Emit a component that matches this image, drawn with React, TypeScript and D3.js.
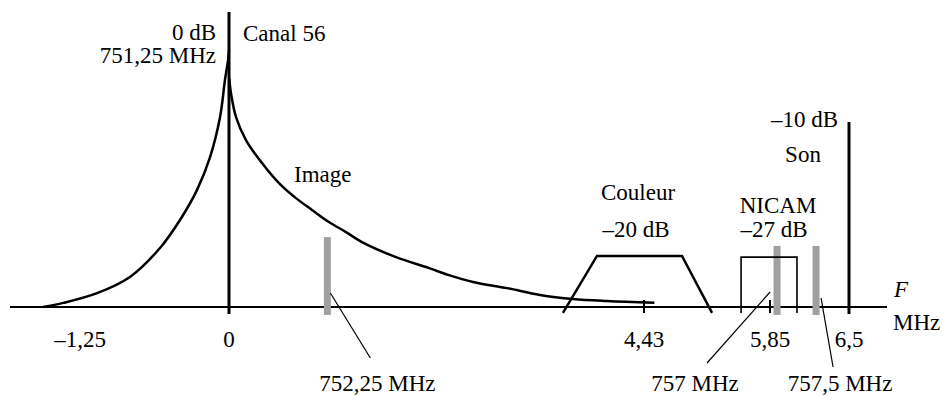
import React, { useRef, useEffect } from 'react';
import * as d3 from 'd3';

const W = 943;
const H = 396;

// schematic frequency axis (MHz from the picture carrier), not to scale
const tickValues = [-1.25, 0, 4.43, 5.85, 6.5];
const tickLabels = ['–1,25', '0', '4,43', '5,85', '6,5'];
const tickMarks = [4.43, 5.85];

// vision spectrum, relative amplitude
const imageLeft = [
  [-1.56, 0], [-1.39, 0.014], [-1.107, 0.047], [-0.831, 0.102], [-0.579, 0.2],
  [-0.411, 0.295], [-0.268, 0.397], [-0.159, 0.508], [-0.075, 0.644],
  [-0.034, 0.769], [-0.008, 0.837], [0, 0.87],
];
const imageRight = [
  [0.003, 0.775], [0.021, 0.725], [0.075, 0.644], [0.181, 0.566], [0.352, 0.488],
  [0.534, 0.42], [0.715, 0.369], [0.886, 0.329], [1.067, 0.288], [1.249, 0.254],
  [1.42, 0.22], [1.783, 0.169], [2.135, 0.132], [2.348, 0.108], [2.605, 0.085],
  [2.968, 0.064], [3.32, 0.041], [3.672, 0.027], [4.035, 0.02], [4.547, 0.014],
];

// colour sub-carrier band and NICAM band
const couleur = [[3.565, -0.02], [3.928, 0.173], [4.858, 0.173], [5.197, -0.02]];
const nicam = [[5.524, -0.02], [5.524, 0.169], [6.072, 0.169], [6.072, -0.02]];

// carriers: vision (0 dB) and sound (-10 dB)
const carriers = [
  { f: 0, a: 1 },
  { f: 6.5, a: 0.627 },
];

// grey markers with their callouts
const markers = [
  { f: 1.05, a: 0.237, label: '752,25 MHz', from: [3, 293], to: [43, 358], lx: 50 },
  { f: 5.908, a: 0.207, label: '757 MHz', from: [-7, 292], to: [-70, 363], lx: -82 },
  { f: 6.229, a: 0.207, label: '757,5 MHz', from: [5, 298], to: [17, 367], lx: 24 },
];

const FONT = "'Liberation Serif'";

const Spectrum = () => {
  const ref = useRef<SVGSVGElement>(null);

  useEffect(() => {
    const svg = d3.select(ref.current);
    svg.selectAll('*').remove();

    const x = d3.scaleLinear()
      .domain(tickValues)
      .range([80, 229, 644, 770, 849]);
    const y = d3.scaleLinear().domain([0, 1]).range([307, 12]);

    const g = svg.append('g');

    const label = (sel: any) => sel
      .style('font-family', FONT)
      .style('font-size', '23px')
      .attr('fill', '#000');

    // axis line
    g.append('line')
      .attr('x1', 10).attr('x2', 887)
      .attr('y1', y(0)).attr('y2', y(0))
      .attr('stroke', '#000').attr('stroke-width', 2);

    // tick marks
    g.selectAll('.tick')
      .data(tickMarks)
      .enter()
      .append('line')
      .attr('x1', d => x(d)).attr('x2', d => x(d))
      .attr('y1', y(0) - 7).attr('y2', y(0) + 6)
      .attr('stroke', '#000').attr('stroke-width', 2);

    // tick labels
    g.selectAll('.tlabel')
      .data(tickValues)
      .enter()
      .append('text')
      .call(label)
      .attr('x', d => x(d))
      .attr('y', 347)
      .attr('text-anchor', 'middle')
      .text((d, i) => tickLabels[i]);

    // grey markers
    g.selectAll('.marker')
      .data(markers)
      .enter()
      .append('rect')
      .attr('x', d => x(d.f) - 3.5)
      .attr('width', 7)
      .attr('y', d => y(d.a))
      .attr('height', d => y(-0.027) - y(d.a))
      .attr('fill', '#a0a0a0');

    // callouts
    markers.forEach(m => {
      g.append('line')
        .attr('x1', x(m.f) + m.from[0]).attr('y1', m.from[1])
        .attr('x2', x(m.f) + m.to[0]).attr('y2', m.to[1])
        .attr('stroke', '#000').attr('stroke-width', 1.2);
      g.append('text')
        .call(label)
        .attr('x', x(m.f) + m.lx)
        .attr('y', 391)
        .attr('text-anchor', 'middle')
        .text(m.label);
    });

    // image curve
    const line = d3.line<number[]>()
      .x(d => x(d[0]))
      .y(d => y(d[1]))
      .curve(d3.curveCatmullRom.alpha(0.5));

    [imageLeft, imageRight].forEach(pts => {
      g.append('path')
        .attr('d', line(pts))
        .attr('fill', 'none')
        .attr('stroke', '#000')
        .attr('stroke-width', 2.5);
    });

    // bands
    const poly = d3.line<number[]>().x(d => x(d[0])).y(d => y(d[1]));
    g.append('path')
      .attr('d', poly(couleur))
      .attr('fill', 'none').attr('stroke', '#000').attr('stroke-width', 2.5);
    g.append('path')
      .attr('d', poly(nicam))
      .attr('fill', 'none').attr('stroke', '#000').attr('stroke-width', 1.6);

    // carriers
    g.selectAll('.carrier')
      .data(carriers)
      .enter()
      .append('line')
      .attr('x1', d => x(d.f)).attr('x2', d => x(d.f))
      .attr('y1', d => y(d.a)).attr('y2', y(-0.024))
      .attr('stroke', '#000').attr('stroke-width', 3);

    // annotations
    const notes = [
      { t: '0 dB', x: x(0) - 13, y: 40, a: 'end' },
      { t: '751,25 MHz', x: x(0) - 13, y: 63, a: 'end' },
      { t: 'Canal 56', x: x(0) + 14, y: 41, a: 'start' },
      { t: 'Image', x: 294, y: 182, a: 'start' },
      { t: 'Couleur', x: 638, y: 200, a: 'middle' },
      { t: '–20 dB', x: 636, y: 237, a: 'middle' },
      { t: 'NICAM', x: 778, y: 213, a: 'middle' },
      { t: '–27 dB', x: 774, y: 237, a: 'middle' },
      { t: '–10 dB', x: x(6.5) - 11, y: 127, a: 'end' },
      { t: 'Son', x: 803, y: 162, a: 'middle' },
      { t: 'MHz', x: 893, y: 330, a: 'start' },
    ];
    g.selectAll('.note')
      .data(notes)
      .enter()
      .append('text')
      .call(label)
      .attr('x', d => d.x)
      .attr('y', d => d.y)
      .attr('text-anchor', d => d.a)
      .text(d => d.t);

    g.append('text')
      .call(label)
      .attr('x', 894).attr('y', 297)
      .style('font-style', 'italic')
      .text('F');
  }, []);

  return (
    <svg ref={ref} width={W} height={H}
      style={{ position: 'absolute', left: 0, top: 0, background: '#fff' }} />
  );
};

export default function App() {
  return <Spectrum />;
}
